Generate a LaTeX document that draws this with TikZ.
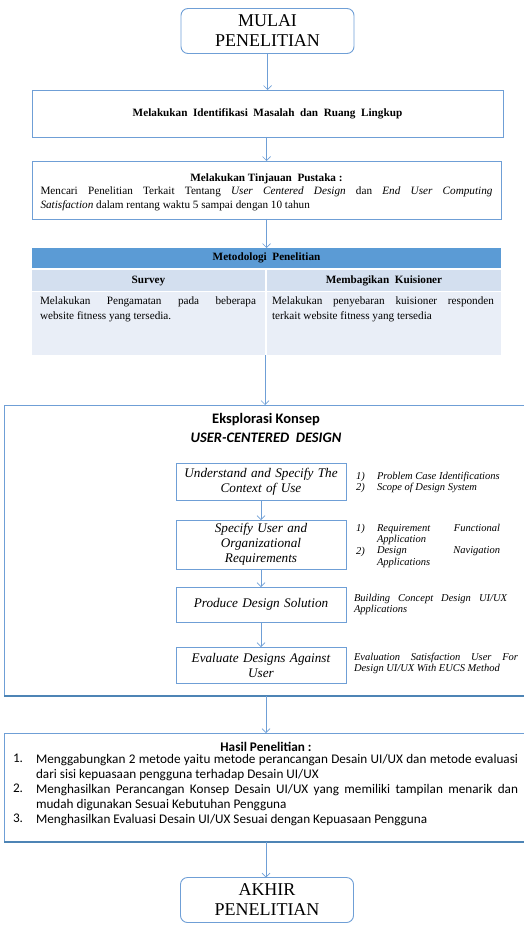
\documentclass[tikz,border=0pt]{standalone}
\usepackage{fontspec}
\setmainfont{Liberation Serif}
\newfontfamily\calib{Carlito}
\usetikzlibrary{arrows.meta}
\definecolor{boxline}{HTML}{6F9FD6}
\definecolor{headblue}{HTML}{5B9BD5}
\definecolor{rowblue}{HTML}{D3DFEF}
\definecolor{cellblue}{HTML}{E9EEF7}
\hyphenpenalty=10000
\exhyphenpenalty=10000
\begin{document}
\begin{tikzpicture}[
            x=1pt, y=-1pt,
            every node/.style={inner sep=0pt, outer sep=0pt},
            endbox/.style={draw=boxline, rounded corners=7pt, line width=0.9pt, minimum width=173pt, minimum height=45pt, align=center, font=\fontsize{18}{20}\selectfont},
            plainbox/.style={draw=boxline, line width=0.9pt},
            ucdbox/.style={draw=boxline, line width=0.9pt, minimum width=170pt, text width=166pt, align=center, font=\fontsize{13.2}{15}\selectfont\itshape},
            note/.style={anchor=north west, align=justify, font=\fontsize{10.5}{11.5}\selectfont\itshape},
            cell/.style={anchor=north west, text width=216pt, align=justify, font=\fontsize{11.2}{15}\selectfont},
            item/.style={anchor=north west, text width=482pt, align=justify, font=\calib\fontsize{13.2}{15}\selectfont},
            flow/.style={draw=boxline, line width=0.7pt, -{Straight Barb[length=4pt, width=8pt]}},
            ]
            \useasboundingbox (0,0) rectangle (523,925);
            \node[endbox] (mulai) at (267.5,31) {MULAI\\PENELITIAN};
            \node[plainbox, minimum width=471pt, minimum height=47pt, font=\fontsize{11.2}{12}\selectfont\bfseries] (ident) at (267.5,113.5) {Melakukan\ \ Identifikasi\ \ Masalah\ \ dan\ \ Ruang\ \ Lingkup};
            \node[plainbox, minimum width=469pt, minimum height=58pt] (tinjau) at (266.5,190) {};
            \node[text width=452pt, align=justify, font=\fontsize{11.2}{13.5}\selectfont] (tinjautext) at (266.5,192) {{\centering\textbf{Melakukan Tinjauan\ \ Pustaka :}\par}Mencari Penelitian Terkait Tentang \textit{User Centered Design} dan \textit{End User Computing}\linebreak \textit{Satisfaction} dalam rentang waktu 5 sampai dengan 10 tahun};
            \node[fill=headblue, minimum width=469pt, minimum height=20pt, font=\fontsize{11.2}{12}\selectfont\bfseries] (metod) at (266.5,258) {Metodologi\ \ Penelitian};
            \node[fill=rowblue, minimum width=233pt, minimum height=21pt, font=\fontsize{11.2}{12}\selectfont\bfseries] (survey) at (148.5,280.5) {Survey};
            \node[fill=rowblue, minimum width=234pt, minimum height=21pt, font=\fontsize{11.2}{12}\selectfont\bfseries] (kuis) at (384,280.5) {Membagikan\ \ Kuisioner};
            \node[fill=cellblue, minimum width=233pt, minimum height=63pt] (survbody) at (148.5,323.5) {};
            \node[fill=cellblue, minimum width=234pt, minimum height=63pt] (kuisbody) at (384,323.5) {};
            \node[cell] (survtext) at (40,297) {Melakukan Pengamatan pada beberapa\linebreak website fitness yang tersedia.};
            \node[cell, text width=222pt] (kuistext) at (272,297) {Melakukan penyebaran kuisioner responden\linebreak terkait website fitness yang tersedia};
            \draw[plainbox] (4,405) rectangle (528,696);
            \draw[draw=boxline, line width=1.6pt] (4.5,405) -- (4.5,696);
            \draw[draw=headblue!85!black, line width=2pt] (4,696) -- (528,696);
            \node[font=\calib\fontsize{14.5}{16}\selectfont\bfseries] (eksplor) at (266,420) {Eksplorasi Konsep};
            \node[font=\calib\fontsize{14.5}{16}\selectfont\bfseries\itshape] (ucd) at (266,437.5) {USER-CENTERED\ \ DESIGN};
            \node[ucdbox, minimum height=37pt] (s1) at (261,481.5) {Understand and Specify The\\Context of Use};
            \node[ucdbox, minimum height=49pt] (s2) at (261,544.5) {Specify User and\\Organizational\\Requirements};
            \node[ucdbox, minimum height=35pt] (s3) at (261,604.5) {Produce Design Solution};
            \node[ucdbox, minimum height=36pt] (s4) at (261,665) {Evaluate Designs Against\\User};
            \node[note] (n1a) at (356,472) {1)};
            \node[note] (n1b) at (356,483.5) {2)};
            \node[note] (n1c) at (377,472) {Problem Case Identifications};
            \node[note] (n1d) at (377,483.5) {Scope of Design System};
            \node[note] (n2a) at (356,524) {1)};
            \node[note] (n2b) at (356,547) {2)};
            \node[note, text width=123pt] (n2c) at (377,524) {Requirement Functional\linebreak Application};
            \node[note, text width=123pt] (n2d) at (377,547) {Design Navigation\linebreak Applications};
            \node[note, text width=153pt] (n3) at (354,594) {Building Concept Design UI/UX\linebreak Applications};
            \node[note, text width=164pt] (n4) at (354,653) {Evaluation Satisfaction User For\linebreak Design UI/UX With EUCS Method};
            \draw[plainbox] (4,733) rectangle (528,842);
            \draw[draw=boxline, line width=1.6pt] (4.5,733) -- (4.5,842);
            \draw[draw=headblue!85!black, line width=2pt] (4,842) -- (528,842);
            \node[font=\calib\fontsize{13.2}{14}\selectfont\bfseries] (hasil) at (266,747) {Hasil Penelitian :};
            \node[item, text width=20pt] (h1a) at (13,754) {1.};
            \node[item, text width=20pt] (h2a) at (13,784) {2.};
            \node[item, text width=20pt] (h3a) at (13,814) {3.};
            \node[item] (h1) at (36,754) {Menggabungkan 2 metode yaitu metode perancangan Desain UI/UX dan metode evaluasi\linebreak dari sisi kepuasaan pengguna terhadap Desain UI/UX};
            \node[item] (h2) at (36,784) {Menghasilkan Perancangan Konsep Desain UI/UX yang memiliki tampilan menarik dan\linebreak mudah digunakan Sesuai Kebutuhan Pengguna};
            \node[item] (h3) at (36,814) {Menghasilkan Evaluasi Desain UI/UX Sesuai dengan Kepuasaan Pengguna};
            \node[endbox] (akhir) at (267,900) {AKHIR\\PENELITIAN};
            \coordinate (eksTop) at (265,405);
            \coordinate (eksBot) at (266,696);
            \coordinate (hasTop) at (266,733);
            \coordinate (hasBot) at (266,842);
            \draw[flow] (mulai) -- (mulai |- ident.north);
            \draw[flow] (ident.south -| tinjau) -- (tinjau);
            \draw[flow] (tinjau) -- (metod);
            \draw[flow] (survbody.south east) -- (eksTop);
            \draw[flow] (s1) -- (s2);
            \draw[flow] (s2) -- (s3);
            \draw[flow] (s3) -- (s4);
            \draw[flow] (eksBot) -- (hasTop);
            \draw[flow] (hasBot) -- (akhir.north -| hasBot);
\end{tikzpicture}
\end{document}
